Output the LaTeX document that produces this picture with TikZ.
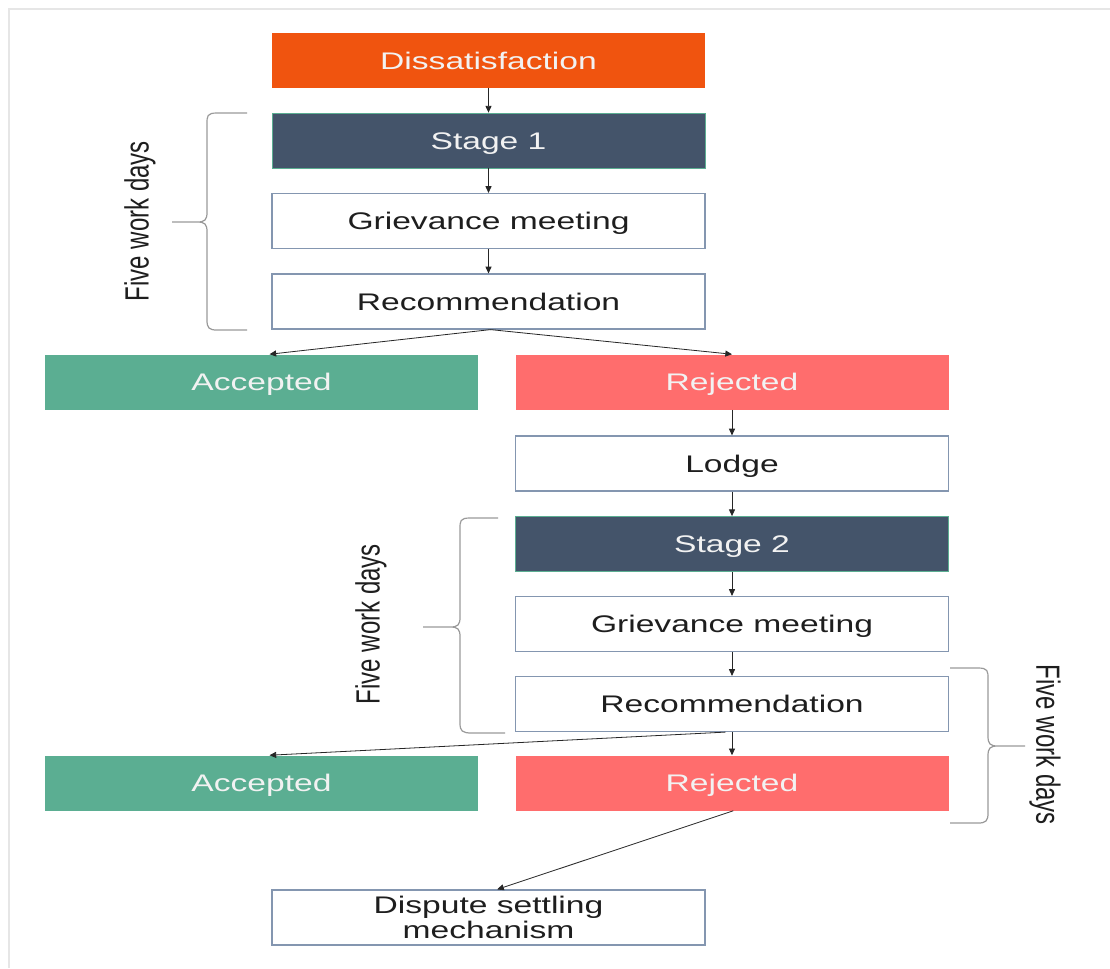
\documentclass[tikz,border=0pt]{standalone}
\usepackage{fontspec}
\setmainfont{Liberation Sans}
\usetikzlibrary{arrows.meta}
\definecolor{orangeC}{HTML}{F0540F}
\definecolor{slateC}{HTML}{44546A}
\definecolor{tealC}{HTML}{5BAE92}
\definecolor{redC}{HTML}{FF6D6D}
\definecolor{edgeC}{HTML}{8496B0}
\definecolor{braceC}{HTML}{9A9A9A}
\definecolor{frameC}{HTML}{E6E6E6}
\definecolor{txtC}{HTML}{1E1E1E}
\definecolor{lightT}{HTML}{F2F2F2}
\newcommand{\sx}[1]{\scalebox{1.4}[1]{#1}}
\newcommand{\sy}[1]{\scalebox{1}[1.4]{#1}}
\begin{document}
\begin{tikzpicture}[x=0.75pt,y=-0.75pt,
  box/.style={minimum width=324.75pt, minimum height=41.25pt, inner sep=0pt,
    font=\fontsize{18}{20}\selectfont, align=center},
  oneline/.style={text height=12.9pt, text depth=0pt},
  orangebox/.style={box, oneline, fill=orangeC, text=lightT},
  stagebox/.style={box, oneline, fill=slateC, draw=tealC, line width=0.6pt, text=lightT},
  whitebox/.style={box, fill=white, draw=edgeC, line width=0.9pt, text=txtC},
  acceptbox/.style={box, oneline, fill=tealC, text=lightT},
  rejectbox/.style={box, oneline, fill=redC, text=lightT},
  arr/.style={draw=black!85, line width=0.6pt, -{Triangle[length=5pt,width=4.5pt]}},
  bracepath/.style={draw=braceC, line width=0.9pt},
  sidelabel/.style={font=\fontsize{18}{20}\selectfont, text=txtC, inner sep=0pt}
]
\useasboundingbox (0,0) rectangle (1110,968);
\fill[white] (0,0) rectangle (1110,968);
% faint frame
\draw[frameC, line width=1.5pt] (9,968) -- (9,9) -- (1110,9);

% nodes
\node[orangebox] (dis) at (488.5,60.5) {\sx{Dissatisfaction}};
\node[stagebox]  (st1) at (488.5,140.5) {\sx{Stage 1}};
\node[whitebox, oneline]  (gm1) at (488.5,221) {\sx{Grievance meeting}};
\node[whitebox, oneline]  (rec1) at (488.5,301.5) {\sx{Recommendation}};
\node[acceptbox] (acc1) at (261.5,382) {\sx{Accepted}};
\node[rejectbox] (rej1) at (732,382) {\sx{Rejected}};
\node[whitebox, oneline]  (lodge) at (732,463.5) {\sx{Lodge}};
\node[stagebox]  (st2) at (732,544) {\sx{Stage 2}};
\node[whitebox, oneline]  (gm2) at (732,624) {\sx{Grievance meeting}};
\node[whitebox, oneline]  (rec2) at (732,704) {\sx{Recommendation}};
\node[acceptbox] (acc2) at (261.5,783) {\sx{Accepted}};
\node[rejectbox] (rej2) at (732,783) {\sx{Rejected}};
\node[whitebox]  (disp) at (488.5,917.5) {\sx{Dispute settling}\\[-1pt]\sx{mechanism}};

% connectors
\draw[arr] (dis) -- (st1);
\draw[arr] (st1) -- (gm1);
\draw[arr] (gm1) -- (rec1);
\draw[arr] ([xshift=1.5pt]rec1.south) -- ([xshift=6pt]acc1.north);
\draw[arr] ([xshift=1.5pt]rec1.south) -- (rej1.north);
\draw[arr] (rej1) -- (lodge);
\draw[arr] (lodge) -- (st2);
\draw[arr] (st2) -- (gm2);
\draw[arr] (gm2) -- (rec2);
\draw[arr] (rec2) -- (rej2);
\draw[arr] ([xshift=-5pt]rec2.south) -- ([xshift=6pt]acc2.north);
\draw[arr] ([xshift=1pt]rej2.south) -- ([xshift=6.5pt]disp.north);

% braces
\coordinate (b1t) at (247,113);
\coordinate (b1b) at (247,330);
\draw[bracepath] (b1t) -- (217,113) .. controls (207,113) and (207,116) .. (207,124)
  -- (207,212) .. controls (207,220) and (205,222) .. (197,222) -- (172,222)
  (197,222) .. controls (205,222) and (207,224) .. (207,232)
  -- (207,320) .. controls (207,328) and (209,330) .. (217,330) -- (b1b);
\node[sidelabel, rotate=90] (lab1) at (140,221) {\sy{Five work days}};

\coordinate (b2t) at (498,518);
\coordinate (b2b) at (505,733);
\draw[bracepath] (b2t) -- (470,518) .. controls (460,518) and (460,521) .. (460,529)
  -- (460,617) .. controls (460,625) and (458,627) .. (450,627) -- (423,627)
  (450,627) .. controls (458,627) and (460,629) .. (460,637)
  -- (460,723) .. controls (460,731) and (462,733) .. (472,733) -- (b2b);
\node[sidelabel, rotate=90] (lab2) at (371,624) {\sy{Five work days}};

\coordinate (b3t) at (950,668);
\coordinate (b3b) at (950,823);
\draw[bracepath] (b3t) -- (978,668) .. controls (988,668) and (988,671) .. (988,679)
  -- (988,736) .. controls (988,744) and (990,746) .. (998,746) -- (1025,746)
  (998,746) .. controls (990,746) and (988,748) .. (988,756)
  -- (988,813) .. controls (988,821) and (986,823) .. (978,823) -- (b3b);
\node[sidelabel, rotate=-90] (lab3) at (1045,745) {\sy{Five work days}};
\end{tikzpicture}
\end{document}
